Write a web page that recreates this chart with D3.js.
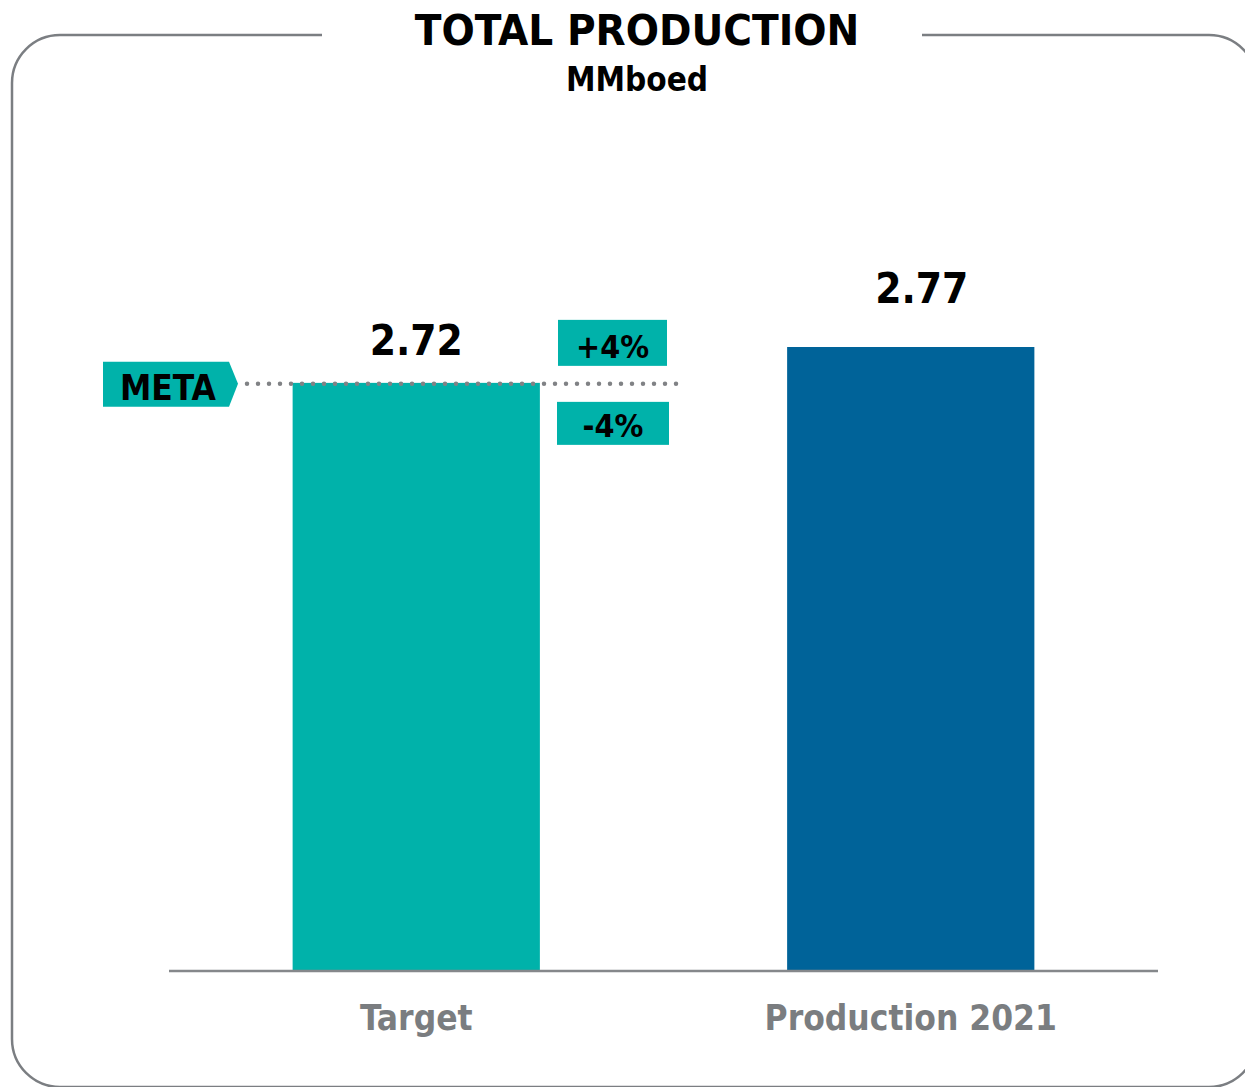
<!DOCTYPE html>
<html>
<head>
<meta charset="utf-8">
<script src="https://cdn.jsdelivr.net/npm/d3@7"></script>
<style>
  html, body { margin: 0; padding: 0; background: #ffffff; }
  svg { display: block; }
  text { font-family: "DejaVu Sans Condensed", "DejaVu Sans", sans-serif; font-weight: bold; }
</style>
</head>
<body>
<svg id="chart" width="1245" height="1087"></svg>
<script>
// Production figures, MMboed
const categories = ["Target", "Production 2021"];
const values = [2.72, 2.77];
const valueLabels = ["2.72", "2.77"];
const barColors = ["#00b2aa", "#006399"];

// Target reference and its tolerance band
const targetValue = 2.72;
const targetLabel = "META";
const bandLabels = ["+4%", "-4%"];

const titleText = "TOTAL PRODUCTION";
const unitText = "MMboed";

// Label nudges (dx, gap above bar) for each value label
const labelNudge = [{ dx: 0, gap: 28 }, { dx: 11, gap: 44 }];

const svg = d3.select("#chart");

// Rounded frame with a gap for the title
svg.append("rect")
  .attr("x", 12).attr("y", 35)
  .attr("width", 1245).attr("height", 1052)
  .attr("rx", 48).attr("ry", 48)
  .attr("fill", "none")
  .attr("stroke", "#7b7e82")
  .attr("stroke-width", 2.5);
svg.append("rect")
  .attr("x", 322).attr("y", 25)
  .attr("width", 600).attr("height", 20)
  .attr("fill", "#ffffff");

svg.append("text")
  .attr("x", 637).attr("y", 45)
  .attr("text-anchor", "middle")
  .attr("font-size", 43.5)
  .attr("fill", "#000")
  .text(titleText);
svg.append("text")
  .attr("x", 637).attr("y", 91)
  .attr("text-anchor", "middle")
  .attr("font-size", 33)
  .attr("fill", "#000")
  .text(unitText);

// Scales
const x = d3.scaleBand()
  .domain(categories)
  .range([169, 1158])
  .paddingInner(0.5)
  .paddingOuter(0.25);

const y = d3.scaleLinear()
  .domain([1.9, 2.77])
  .range([971, 347]);

const data = categories.map((c, i) => ({ cat: c, value: values[i], label: valueLabels[i], color: barColors[i], nudge: labelNudge[i] }));

// Bars
svg.append("g").selectAll("rect")
  .data(data)
  .join("rect")
  .attr("x", d => x(d.cat))
  .attr("y", d => y(d.value))
  .attr("width", x.bandwidth())
  .attr("height", d => y(y.domain()[0]) - y(d.value))
  .attr("fill", d => d.color);

// Value labels
svg.append("g").selectAll("text")
  .data(data)
  .join("text")
  .attr("x", d => x(d.cat) + x.bandwidth() / 2 + d.nudge.dx)
  .attr("y", d => y(d.value) - d.nudge.gap)
  .attr("text-anchor", "middle")
  .attr("font-size", 42)
  .attr("fill", "#000")
  .text(d => d.label);

// Category axis
const xAxis = d3.axisBottom(x).tickSize(0).tickPadding(0);
const gx = svg.append("g")
  .attr("transform", "translate(0,971)")
  .call(xAxis);
gx.select(".domain")
  .attr("d", "M169,0H1158")
  .attr("stroke", "#85888b")
  .attr("stroke-width", 2.5);
gx.selectAll(".tick text")
  .attr("y", 59)
  .attr("dy", null)
  .attr("font-family", "\"DejaVu Sans Condensed\", \"DejaVu Sans\", sans-serif")
  .attr("font-weight", "bold")
  .attr("font-size", 35)
  .attr("fill", "#7a7d80");

// Target reference line (dotted)
const yT = y(targetValue);
svg.append("line")
  .attr("x1", 247).attr("x2", 678)
  .attr("y1", yT + 1).attr("y2", yT + 1)
  .attr("stroke", "#808285")
  .attr("stroke-width", 4.5)
  .attr("stroke-linecap", "round")
  .attr("stroke-dasharray", "0 11");

// META tag with arrow point
svg.append("path")
  .attr("d", `M103,${yT - 21}H229L238,${yT + 1}L229,${yT + 24}H103Z`)
  .attr("fill", "#00b2aa");
svg.append("text")
  .attr("x", 168).attr("y", yT + 17)
  .attr("text-anchor", "middle")
  .attr("font-size", 35)
  .attr("fill", "#000")
  .text(targetLabel);

// Tolerance boxes above and below the reference
const bands = [
  { label: bandLabels[0], x0: 558, x1: 667, top: yT - 63, bottom: yT - 17 },
  { label: bandLabels[1], x0: 557, x1: 669, top: yT + 19, bottom: yT + 62 }
];
const bg = svg.append("g").selectAll("g")
  .data(bands)
  .join("g");
bg.append("rect")
  .attr("x", d => d.x0).attr("y", d => d.top)
  .attr("width", d => d.x1 - d.x0)
  .attr("height", d => d.bottom - d.top)
  .attr("fill", "#00b2aa");
bg.append("text")
  .attr("x", d => (d.x0 + d.x1) / 2)
  .attr("y", d => d.bottom - 8)
  .attr("text-anchor", "middle")
  .attr("font-size", 32)
  .attr("fill", "#000")
  .text(d => d.label);
</script>
</body>
</html>
